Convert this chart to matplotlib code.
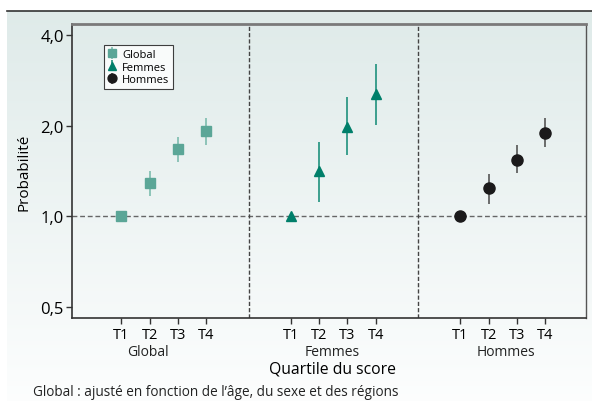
import matplotlib.pyplot as plt
import numpy as np
from matplotlib.lines import Line2D

plt.rcParams['font.family'] = ['Open Sans', 'DejaVu Sans']

quartiles = ['T1', 'T2', 'T3', 'T4']
groups = ['Global', 'Femmes', 'Hommes']

global_val = [1.0, 1.29, 1.67, 1.92]
global_lo = [1.0, 1.17, 1.51, 1.72]
global_hi = [1.0, 1.41, 1.83, 2.12]

femmes_val = [1.0, 1.41, 1.98, 2.55]
femmes_lo = [1.0, 1.12, 1.60, 2.01]
femmes_hi = [1.0, 1.77, 2.49, 3.20]

hommes_val = [1.0, 1.24, 1.54, 1.89]
hommes_lo = [1.0, 1.10, 1.39, 1.70]
hommes_hi = [1.0, 1.38, 1.72, 2.12]

W, H = 592, 402
fig = plt.figure(figsize=(W / 100, H / 100), dpi=100)

# fond en dégradé
bg = fig.add_axes([7 / W, 0, 1 - 7 / W, (H - 12) / H], zorder=-2)
grad = np.linspace(0, 1, 256).reshape(-1, 1)
c_top = np.array([0.875, 0.92, 0.915])
c_bot = np.array([0.99, 0.995, 0.995])
img = c_top + (c_bot - c_top) * grad[..., None]
bg.imshow(img, aspect='auto', extent=[0, 1, 0, 1])
bg.axis('off')
fig.add_artist(Line2D([7 / W, 1], [(H - 12) / H] * 2, color='#333333', lw=1.2))

ax = fig.add_axes([72 / W, (H - 319) / H, (586 - 72) / W, (319 - 25) / H])
ax.set_facecolor('none')
ax.set_yscale('log')
ax.set_ylim(0.46, 4.35)
ax.set_xlim(-1.75, 16.45)

series = [
    (global_val, global_lo, global_hi, 's', '#5ba697', '#7dbcae', 7.5),
    (femmes_val, femmes_lo, femmes_hi, '^', '#007f6a', '#1f917d', 7.5),
    (hommes_val, hommes_lo, hommes_hi, 'o', '#1b1a1b', '#555555', 8),
]
for i, (v, lo, hi, m, c, ec, ms) in enumerate(series):
    xs = np.arange(4) + 6 * i
    v = np.array(v)
    err = [v - np.array(lo), np.array(hi) - v]
    ax.errorbar(xs, v, yerr=err, fmt=m, color=c, ecolor=ec, elinewidth=1.2,
                markersize=ms, capsize=0, zorder=3, label=groups[i])

ax.axhline(1.0, color='#666666', lw=1, ls=(0, (3.5, 2)), zorder=1)
for xd in [4.5, 10.5]:
    ax.axvline(xd, color='#444444', lw=1, ls=(0, (3, 1.5)), zorder=1)

ax.set_yticks([0.5, 1.0, 2.0, 4.0])
ax.set_yticklabels(['0,5', '1,0', '2,0', '4,0'], fontsize=12)
ax.yaxis.set_minor_locator(plt.NullLocator())
xt = [x + 6 * i for i in range(3) for x in range(4)]
ax.set_xticks(xt)
ax.set_xticklabels(quartiles * 3, fontsize=10.5)
ax.tick_params(axis='both', length=4, width=1, color='#333333', pad=2)
ax.tick_params(axis='x', pad=2.5)

for sp in ['left', 'bottom']:
    ax.spines[sp].set_color('#333333')
    ax.spines[sp].set_linewidth(1.2)
ax.spines['top'].set_color('#7a7a7a')
ax.spines['top'].set_linewidth(2)
ax.spines['right'].set_color('#555555')
ax.spines['right'].set_linewidth(1)

group_x = [0.95, 7.46, 13.6]
for gx, g in zip(group_x, groups):
    ax.text(gx, -0.113, g, transform=ax.get_xaxis_transform(),
            ha='center', va='center', fontsize=10, color='#222222')

ax.set_xlabel('Quartile du score', fontsize=11.3)
ax.xaxis.set_label_coords((332.5 - 72) / (586 - 72), -0.146)
ax.set_ylabel('Probabilité', fontsize=11, labelpad=6)

leg = ax.legend(loc='upper left', bbox_to_anchor=(104 / W, (H - 46) / H),
                bbox_transform=fig.transFigure, fontsize=8, frameon=True,
                fancybox=False, handlelength=0.8, handletextpad=0.5,
                borderpad=0.35, labelspacing=0.15, markerscale=0.8,
                borderaxespad=0)
leg.get_frame().set_edgecolor('#111111')
leg.get_frame().set_linewidth(0.8)

fig.text(33 / W, 1 - 393 / H, "Global : ajusté en fonction de l’âge, du sexe et des régions",
         fontsize=9.8, va='center', ha='left', color='#222222')

fig.savefig('out.png', dpi=100)
